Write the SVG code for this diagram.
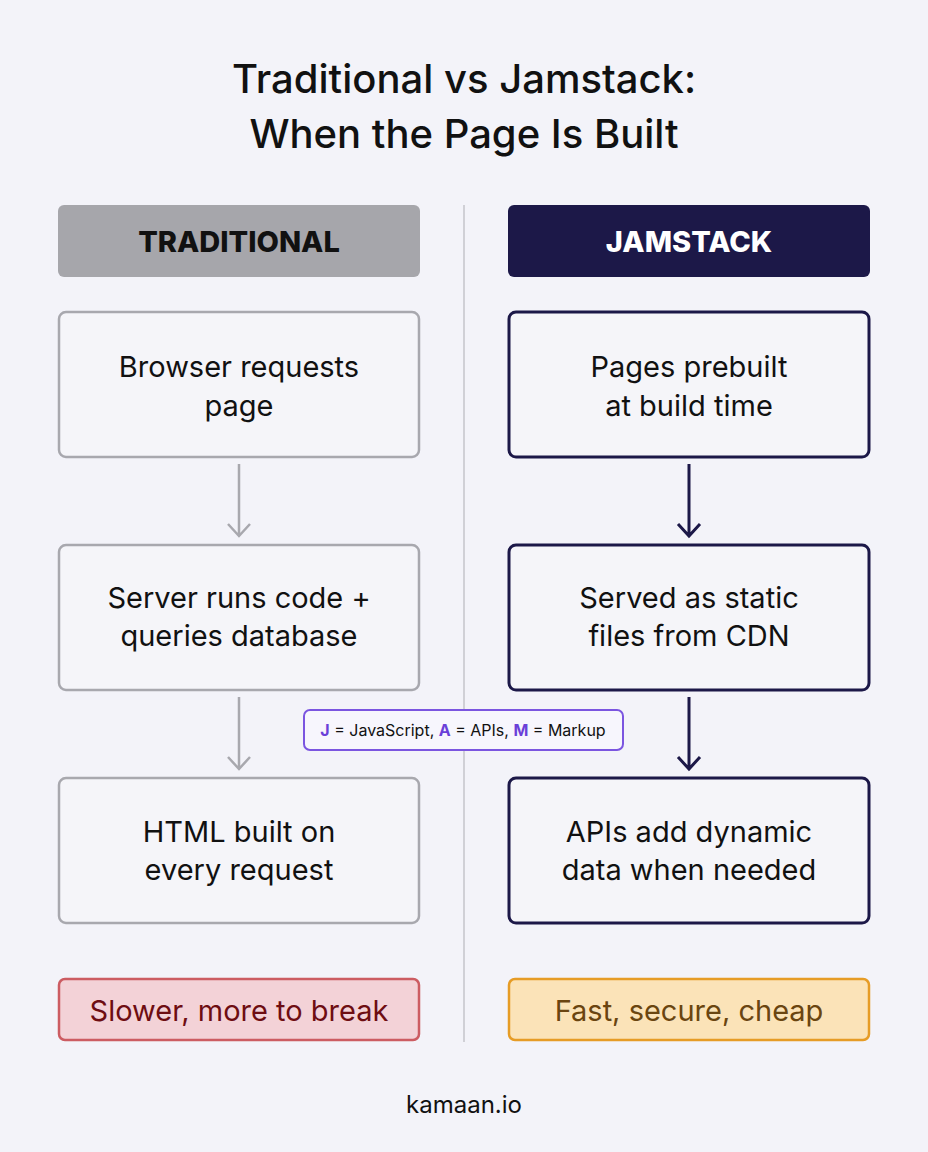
<svg xmlns="http://www.w3.org/2000/svg" width="928" height="1152" viewBox="0 0 928 1152">
<style>
text{font-family:Inter,"Liberation Sans",sans-serif;text-anchor:middle}
.t{font-size:40px;font-weight:500;fill:#111}
.b{font-size:29px;fill:#111}
.lb{fill:#f5f5f9;stroke:#a8a8ae;stroke-width:2.5}
.rb{fill:#f5f5f9;stroke:#1c1848;stroke-width:3}
.la{stroke:#a8a8ae;stroke-width:2.5;fill:none}
.ra{stroke:#1c1848;stroke-width:3;fill:none}
</style>
<rect width="928" height="1152" fill="#f3f3f9"/>
<text class="t" x="464" y="93">Traditional vs Jamstack:</text>
<text class="t" x="464" y="148">When the Page Is Built</text>
<line x1="464" y1="205" x2="464" y2="1042" stroke="#d0d0d6" stroke-width="2"/>
<g id="hdr-trad"><rect x="58" y="205" width="362" height="72" rx="6" fill="#a6a6ab"/><text x="239" y="252" font-size="29" font-weight="800" fill="#111">TRADITIONAL</text></g>
<g id="hdr-jam"><rect x="508" y="205" width="362" height="72" rx="6" fill="#1c1848"/><text x="689" y="252" font-size="29" font-weight="800" fill="#fff">JAMSTACK</text></g>
<g id="t1"><rect class="lb" x="59" y="312" width="360" height="145" rx="7"/><text class="b" x="239" y="377">Browser requests</text><text class="b" x="239" y="416">page</text></g>
<g id="t2"><rect class="lb" x="59" y="545" width="360" height="145" rx="7"/><text class="b" x="239" y="608">Server runs code +</text><text class="b" x="239" y="646">queries database</text></g>
<g id="t3"><rect class="lb" x="59" y="778" width="360" height="145" rx="7"/><text class="b" x="239" y="842">HTML built on</text><text class="b" x="239" y="880">every request</text></g>
<g id="j1"><rect class="rb" x="509" y="312" width="360" height="145" rx="7"/><text class="b" x="689" y="377">Pages prebuilt</text><text class="b" x="689" y="416">at build time</text></g>
<g id="j2"><rect class="rb" x="509" y="545" width="360" height="145" rx="7"/><text class="b" x="689" y="608">Served as static</text><text class="b" x="689" y="646">files from CDN</text></g>
<g id="j3"><rect class="rb" x="509" y="778" width="360" height="145" rx="7"/><text class="b" x="689" y="842">APIs add dynamic</text><text class="b" x="689" y="880">data when needed</text></g>
<g id="connectors">
<path class="la" d="M239 464V535M228 524L239 536L250 524"/>
<path class="la" d="M239 697V768M228 757L239 769L250 757"/>
<path class="ra" d="M689 464V535M678 524L689 536L700 524"/>
<path class="ra" d="M689 697V768M678 757L689 769L700 757"/>
</g>
<g id="legend"><rect x="304" y="710" width="319" height="40" rx="6" fill="#f7f6fd" stroke="#7b55e0" stroke-width="2"/>
<text x="463" y="736" font-size="16" fill="#111"><tspan fill="#6a3fd8" font-weight="700">J</tspan> = JavaScript, <tspan fill="#6a3fd8" font-weight="700">A</tspan> = APIs, <tspan fill="#6a3fd8" font-weight="700">M</tspan> = Markup</text></g>
<g id="bad"><rect x="59" y="979" width="360" height="61" rx="6" fill="#f3d2d7" stroke="#cc5c62" stroke-width="2.5"/><text x="239" y="1021" font-size="29" fill="#6e0d12">Slower, more to break</text></g>
<g id="good"><rect x="509" y="979" width="360" height="61" rx="6" fill="#fbe3b8" stroke="#e69c26" stroke-width="2.5"/><text x="689" y="1021" font-size="29" fill="#6a4510">Fast, secure, cheap</text></g>
<text x="464" y="1113" font-size="24" fill="#111">kamaan.io</text>
</svg>
